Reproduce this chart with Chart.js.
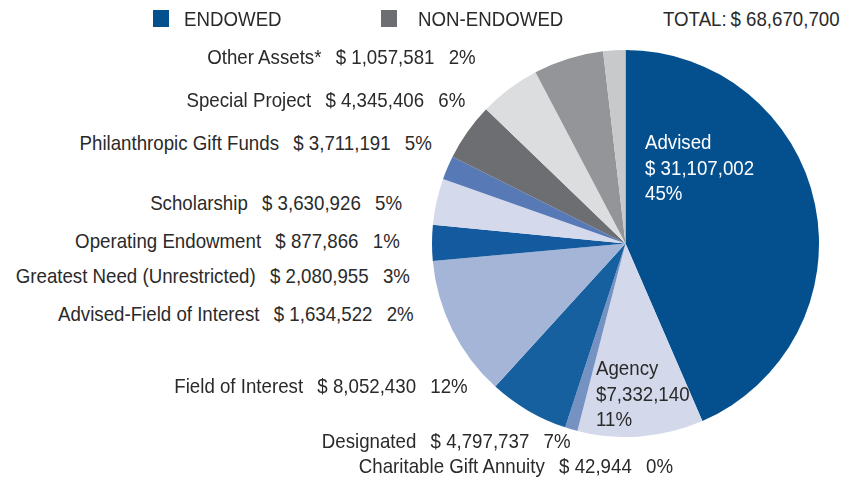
<!DOCTYPE html>
<html>
<head>
<meta charset="utf-8">
<script src="https://cdn.jsdelivr.net/npm/chart.js@4/dist/chart.umd.min.js"></script>
<style>
  body { margin:0; width:842px; height:477px; background:#fff; overflow:hidden;
         font-family:"Liberation Sans", Arial, sans-serif; color:#2a2a2a; }
  #pie-box { position:absolute; left:432px; top:50px; width:387px; height:387px; }
  .lbl { position:absolute; white-space:nowrap; font-size:21px; line-height:24px;
         transform:scaleX(0.89); transform-origin:right center; }
  .lbl .amt { margin-left:16px; }
  .lbl .pct { margin-left:16px; }
  .key { position:absolute; top:10px; width:16px; height:17px; }
  .ktxt { position:absolute; top:7px; font-size:21px; line-height:24px; white-space:nowrap;
          transform:scaleX(0.89); transform-origin:left center; }
  .ktxt.r { transform-origin:right center; }
  .inner { position:absolute; font-size:21px; line-height:25.5px; white-space:nowrap;
           transform:scaleX(0.89); transform-origin:left top; }
</style>
</head>
<body>
<div id="pie-box"><canvas id="pie" width="387" height="387"></canvas></div>
<div id="labels"></div>

<script>
// slices, clockwise from 12 o'clock, share of the circle in % as drawn
const slices = ["Advised","Agency","Operating Endowment","Designated","Field of Interest",
  "Greatest Need (Unrestricted)","Scholarship","Advised-Field of Interest",
  "Philanthropic Gift Funds","Non-endowed (light)","Special Project","Other Assets*"];
const sliceShare = [43.5, 10.5, 1.05, 6.7, 11.8, 3.0, 3.85, 2.0, 4.8, 5.1, 5.85, 1.85];
const sliceColors = ["#04508f","#d3d9eb","#7592c2","#1660a0","#a4b5d7","#145a9e",
  "#d4daeb","#577ab6","#6d6e71","#dcdddf","#939598","#c8c9cb"];

// callout text, top to bottom on the left
const names = ["Other Assets*","Special Project","Philanthropic Gift Funds","Scholarship",
  "Operating Endowment","Greatest Need (Unrestricted)","Advised-Field of Interest",
  "Field of Interest","Designated","Charitable Gift Annuity"];
const amounts = ["$ 1,057,581","$ 4,345,406","$ 3,711,191","$ 3,630,926","$ 877,866",
  "$ 2,080,955","$ 1,634,522","$ 8,052,430","$ 4,797,737","$ 42,944"];
const pcts = ["2%","6%","5%","5%","1%","3%","2%","12%","7%","0%"];

const total = "$ 68,670,700";

// layout of the callouts (right edge x, middle y)
const labelRight = [476, 465, 432, 402, 400, 410, 414, 468, 571, 673];
const labelMid   = [57, 100, 143, 203, 241, 276, 314, 386, 441, 466];

const box = document.getElementById("labels");
names.forEach((n, i) => {
  const d = document.createElement("div");
  d.className = "lbl";
  d.style.right = (842 - labelRight[i]) + "px";
  d.style.top = (labelMid[i] - 12) + "px";
  d.innerHTML = `<span>${n}</span><span class="amt">${amounts[i]}</span><span class="pct">${pcts[i]}</span>`;
  box.appendChild(d);
});

box.innerHTML += `
  <div class="key" style="left:153px;background:#04508f"></div>
  <div class="ktxt" style="left:184px">ENDOWED</div>
  <div class="key" style="left:381px;background:#6d6e71"></div>
  <div class="ktxt" style="left:418px">NON-ENDOWED</div>
  <div class="ktxt" style="left:663px">TOTAL:</div>
  <div class="ktxt r" style="right:2px">${total}</div>
  <div class="inner" style="left:645px;top:129px;color:#fff">Advised<br>$ 31,107,002<br>45%</div>
  <div class="inner" style="left:596px;top:355px;color:#2a2a2a">Agency<br>$7,332,140<br>11%</div>`;

new Chart(document.getElementById("pie"), {
  type: "pie",
  data: {
    labels: slices,
    datasets: [{ data: sliceShare, backgroundColor: sliceColors, borderWidth: 0 }]
  },
  options: {
    responsive: false,
    animation: false,
    layout: { padding: 0 },
    plugins: { legend: { display: false }, tooltip: { enabled: false } }
  }
});
</script>
</body>
</html>
